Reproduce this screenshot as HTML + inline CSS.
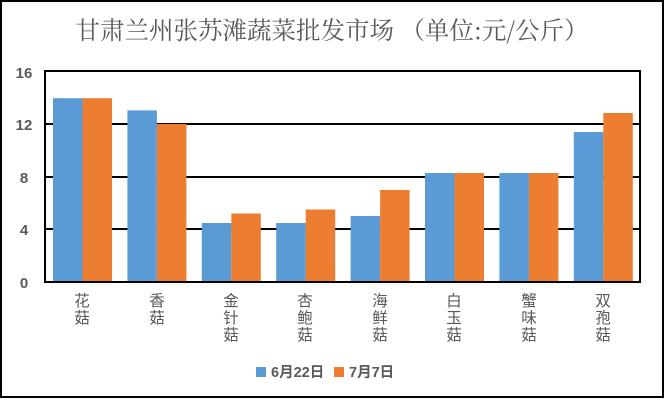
<!DOCTYPE html>
<html><head><meta charset="utf-8"><style>
html,body{margin:0;padding:0;background:#fff}
body{width:665px;height:400px;overflow:hidden}
</style></head><body>
<svg width="665" height="400" xmlns="http://www.w3.org/2000/svg" font-family="Liberation Sans, Noto Sans CJK SC, sans-serif">
<rect x="1" y="1" width="662" height="396" fill="#fff" stroke="#000" stroke-width="2"/>
<text x="332" y="39" text-anchor="middle" font-size="24.5" fill="#595959" font-family="Noto Serif CJK SC, Noto Sans CJK SC, serif">甘肃兰州张苏滩蔬菜批发市场 （单位:元/公斤）</text>
<g stroke="#000" stroke-width="2">
<line x1="45" y1="124" x2="640" y2="124"/>
<line x1="45" y1="177" x2="640" y2="177"/>
<line x1="45" y1="229" x2="640" y2="229"/>
</g>
<g font-size="15" font-weight="bold" fill="#595959" text-anchor="middle">
<text x="24" y="78">16</text><text x="24" y="130">12</text><text x="24" y="183">8</text><text x="24" y="235">4</text><text x="24" y="288">0</text>
</g>
<g>
<rect x="53" y="98.2" width="29.5" height="183.8" fill="#5b9bd5"/><rect x="82.5" y="98.2" width="29.5" height="183.8" fill="#ed7d31"/>
<rect x="127.4" y="110.4" width="29.5" height="171.6" fill="#5b9bd5"/><rect x="156.9" y="124" width="29.5" height="158" fill="#ed7d31"/>
<rect x="201.8" y="223" width="29.5" height="59" fill="#5b9bd5"/><rect x="231.3" y="213.5" width="29.5" height="68.5" fill="#ed7d31"/>
<rect x="276.2" y="223" width="29.5" height="59" fill="#5b9bd5"/><rect x="305.7" y="209.5" width="29.5" height="72.5" fill="#ed7d31"/>
<rect x="350.6" y="216" width="29.5" height="66" fill="#5b9bd5"/><rect x="380.1" y="190" width="29.5" height="92" fill="#ed7d31"/>
<rect x="425" y="173" width="29.5" height="109" fill="#5b9bd5"/><rect x="454.5" y="173" width="29.5" height="109" fill="#ed7d31"/>
<rect x="499.4" y="173" width="29.5" height="109" fill="#5b9bd5"/><rect x="528.9" y="173" width="29.5" height="109" fill="#ed7d31"/>
<rect x="573.8" y="132" width="29.5" height="150" fill="#5b9bd5"/><rect x="603.3" y="113" width="29.5" height="169" fill="#ed7d31"/>
</g>
<rect x="45" y="71" width="595" height="211" fill="none" stroke="#000" stroke-width="2"/>
<rect x="256" y="367" width="10" height="10" fill="#5b9bd5"/>
<text x="271" y="377" font-size="14.5" font-weight="bold" fill="#595959">6月22日</text>
<rect x="334" y="367" width="10" height="10" fill="#ed7d31"/>
<text x="349" y="377" font-size="14.5" font-weight="bold" fill="#595959">7月7日</text>
<g font-size="15.5" fill="#595959" text-anchor="middle" font-family="Noto Sans CJK SC, sans-serif">
<text x="82" y="306">花</text><text x="82" y="323">菇</text>
<text x="157" y="306">香</text><text x="157" y="323">菇</text>
<text x="231" y="306">金</text><text x="231" y="323">针</text><text x="231" y="340">菇</text>
<text x="305" y="306">杏</text><text x="305" y="323">鲍</text><text x="305" y="340">菇</text>
<text x="380" y="306">海</text><text x="380" y="323">鲜</text><text x="380" y="340">菇</text>
<text x="454" y="306">白</text><text x="454" y="323">玉</text><text x="454" y="340">菇</text>
<text x="529" y="306">蟹</text><text x="529" y="323">味</text><text x="529" y="340">菇</text>
<text x="603" y="306">双</text><text x="603" y="323">孢</text><text x="603" y="340">菇</text>
</g>
</svg>
</body></html>
